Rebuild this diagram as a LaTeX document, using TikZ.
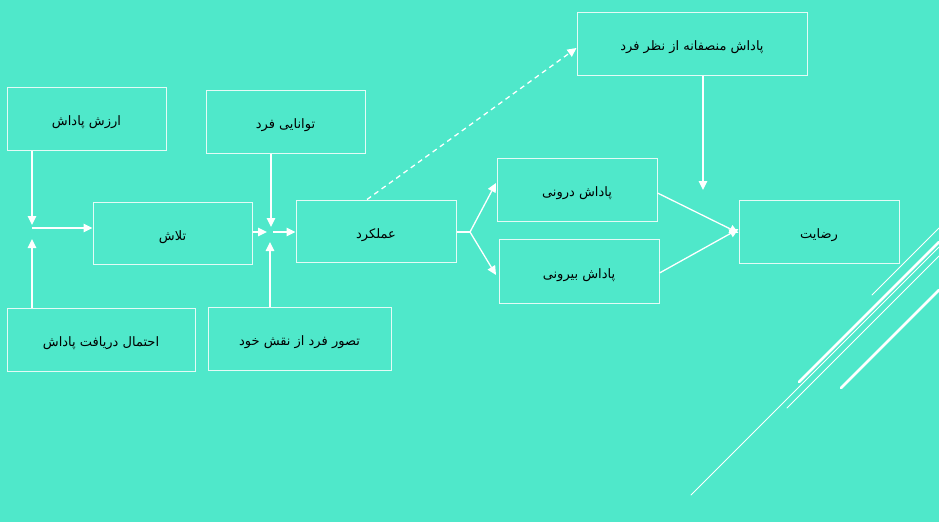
\documentclass[tikz,border=0pt]{standalone}
\usepackage{fontspec}
\usetikzlibrary{arrows.meta}
\TeXXeTstate=1
\newfontfamily\arabicfont[Script=Arabic]{DejaVu Sans}
\definecolor{bgc}{HTML}{4FE8CA}
\definecolor{edgec}{HTML}{E4FBF6}
\tikzset{
  box/.style={draw=edgec, line width=1pt, rectangle, inner sep=0pt, font=\arabicfont\fontsize{13}{15}\selectfont, text=black},
  conn/.style={draw=white, line width=1.3pt, -{Triangle[length=9pt,width=8.5pt]}},
  plain/.style={draw=white, line width=1.3pt},
  deco/.style={draw=white, line cap=round},
}
\newcommand{\ar}[1]{\raisebox{-7pt}[0pt][0pt]{\beginR #1\endR}}
\begin{document}
\begin{tikzpicture}[x=1pt,y=-1pt]
\fill[bgc] (0,0) rectangle (939,522);
\useasboundingbox (0,0) rectangle (939,522);

% boxes
\node[box, minimum width=159pt, minimum height=63pt] (val)  at (86.5,118.5) {\ar{ارزش پاداش}};
\node[box, minimum width=188pt, minimum height=63pt] (prob) at (101,339.5) {\ar{احتمال دریافت پاداش}};
\node[box, minimum width=159pt, minimum height=62pt] (eff)  at (172.5,233) {\ar{تلاش}};
\node[box, minimum width=159pt, minimum height=63pt] (abil) at (285.5,121.5) {\ar{توانایی فرد}};
\node[box, minimum width=183pt, minimum height=63pt] (role) at (299.5,338.5) {\ar{تصور فرد از نقش خود}};
\node[box, minimum width=160pt, minimum height=62pt] (perf) at (376,231) {\ar{عملکرد}};
\node[box, minimum width=230pt, minimum height=63pt] (fair) at (692,43.5) {\ar{پاداش منصفانه از نظر فرد}};
\node[box, minimum width=160pt, minimum height=63pt] (intr) at (577,189.5) {\ar{پاداش درونی}};
\node[box, minimum width=160pt, minimum height=64pt] (extr) at (579,271) {\ar{پاداش بیرونی}};
\node[box, minimum width=160pt, minimum height=63pt] (sat)  at (819,231.5) {\ar{رضایت}};

% junction points
\coordinate (j1) at (32,228);
\coordinate (j1d) at (32,225);
\coordinate (j1u) at (32,239);
\coordinate (j2a) at (267,232);
\coordinate (j2d) at (271,227);
\coordinate (j2u) at (270,242);
\coordinate (j2r) at (273,232);
\coordinate (fk) at (470,232);
\coordinate (fkup) at (496,183);
\coordinate (fkdn) at (496,275);
\coordinate (fairend) at (703,190);

% connectors
\draw[conn] (j1d |- val.south) -- (j1d);
\draw[conn] (j1u |- prob.north) -- (j1u);
\draw[conn] (j1) -- (eff.west |- j1);
\draw[conn] (eff.east |- j2a) -- (j2a);
\draw[conn] (j2d |- abil.south) -- (j2d);
\draw[conn] (j2u |- role.north) -- (j2u);
\draw[conn] (j2r) -- (perf.west |- j2r);
\draw[plain] (perf.east |- fk) -- (fk);
\draw[conn] (fk) -- (fkup);
\draw[conn] (fk) -- (fkdn);
\draw[conn, dashed, dash pattern=on 5pt off 4pt] ([xshift=-9pt]perf.north) -- ([yshift=-4.5pt]fair.west);
\draw[conn] (fairend |- fair.south) -- (fairend);
\draw[conn] ([yshift=-3.5pt]intr.east) -- ([yshift=-1.5pt]sat.west);
\draw[conn] ([yshift=-2pt]extr.east) -- ([yshift=2.5pt]sat.west);

% decorative lines
\draw[deco, line width=0.8pt] (872,295) -- (939,228);
\draw[deco, line width=2.6pt] (799,382) -- (939,242);
\draw[deco, line width=0.8pt] (691,495) -- (939,247);
\draw[deco, line width=0.8pt] (787,408) -- (939,256);
\draw[deco, line width=2.6pt] (841,388) -- (939,290);
\end{tikzpicture}
\end{document}
